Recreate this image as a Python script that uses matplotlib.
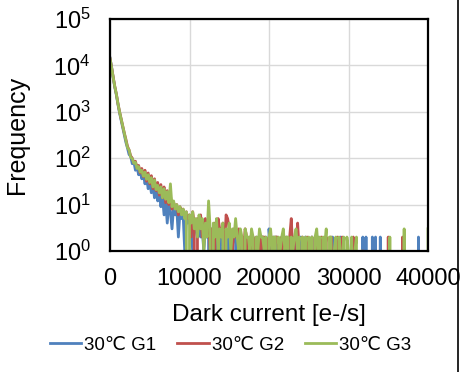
import matplotlib
matplotlib.use("Agg")
import matplotlib.pyplot as plt
import numpy as np
from matplotlib.lines import Line2D

# bin centres, 200 e-/s wide
bin_step = 200
x_max = 40000

labels = ["30\u2103 G1", "30\u2103 G2", "30\u2103 G3"]
colors = ["#4F81BD", "#C0504D", "#9BBB59"]

# counts per bin (10 bins per row = 2000 e-/s)
g1 = [14500, 9200, 5400, 3400, 2300, 1450, 950, 660, 450, 320,
      220, 165, 120, 110, 76, 84, 55, 64, 44, 52,
      36, 45, 28, 38, 22, 31, 18, 26, 14, 21,
      12, 18, 9, 15, 6, 12, 4, 11, 7, 3,
      9, 6, 8, 2, 7, 5, 6, 1, 5, 4,
      5, 3, 1, 4, 3, 2, 4, 2, 3, 1,
      3, 2, 4, 0, 3, 1, 2, 3, 0, 2,
      3, 1, 2, 0, 2, 3, 1, 2, 0, 2,
      1, 2, 0, 2, 1, 2, 0, 1, 2, 0,
      2, 1, 0, 2, 1, 0, 2, 1, 2, 0,
      3, 1, 0, 2, 1, 2, 0, 1, 2, 0,
      1, 2, 0, 1, 2, 0, 1, 2, 0, 1,
      2, 0, 1, 2, 0, 1, 0, 2, 0, 1,
      0, 2, 0, 1, 0, 2, 0, 1, 0, 0,
      2, 0, 1, 0, 0, 2, 0, 0, 1, 0,
      0, 1, 0, 0, 0, 0, 0, 0, 0, 2,
      0, 2, 0, 0, 0, 2, 0, 2, 0, 0,
      2, 0, 0, 0, 0, 0, 0, 0, 0, 0,
      0, 0, 0, 0, 0, 0, 0, 0, 0, 0,
      0, 0, 0, 0, 2, 0, 0, 0, 0, 0,
      0]

g2 = [14200, 9100, 5600, 3550, 2420, 1520, 1010, 710, 490, 350,
      255, 180, 150, 112, 100, 80, 86, 62, 70, 48,
      60, 40, 55, 32, 48, 28, 42, 22, 36, 20,
      30, 16, 27, 14, 24, 11, 20, 10, 16, 8,
      11, 9, 10, 6, 9, 7, 8, 6, 7, 5,
      6, 2, 7, 4, 0, 5, 3, 6, 2, 4,
      5, 3, 4, 1, 3, 0, 4, 2, 5, 3,
      2, 4, 1, 6, 5, 3, 2, 1, 3, 2,
      2, 3, 0, 2, 1, 3, 2, 0, 2, 1,
      2, 1, 2, 0, 2, 1, 2, 2, 0, 1,
      2, 0, 2, 1, 2, 2, 1, 0, 2, 1,
      2, 0, 1, 2, 5, 1, 2, 0, 4, 1,
      0, 2, 1, 0, 2, 1, 0, 2, 0, 1,
      2, 0, 1, 2, 0, 1, 2, 0, 0, 2,
      0, 1, 0, 2, 0, 0, 2, 0, 1, 0,
      0, 0, 0, 2, 0, 0, 0, 0, 0, 1,
      0, 0, 0, 0, 0, 0, 0, 0, 0, 0,
      0, 0, 0, 0, 0, 2, 0, 0, 0, 0,
      0, 0, 0, 0, 2, 0, 0, 0, 0, 0,
      0, 0, 0, 0, 0, 0, 0, 0, 0, 0,
      0]

g3 = [14000, 9000, 5500, 3500, 2400, 1500, 1000, 700, 480, 340,
      240, 170, 150, 105, 98, 78, 82, 60, 66, 50,
      55, 41, 50, 35, 44, 30, 38, 24, 34, 21,
      26, 18, 24, 14, 22, 13, 19, 11, 28, 9,
      12, 8, 10, 7, 9, 6, 8, 5, 7, 0,
      6, 4, 7, 3, 5, 2, 6, 3, 5, 1,
      4, 2, 12, 3, 0, 4, 2, 5, 1, 3,
      2, 4, 0, 3, 2, 4, 1, 3, 2, 5,
      2, 1, 3, 2, 0, 3, 2, 2, 1, 3,
      2, 0, 2, 1, 3, 2, 2, 1, 2, 0,
      2, 3, 1, 2, 2, 0, 2, 1, 2, 3,
      1, 2, 2, 0, 2, 1, 2, 3, 1, 2,
      0, 2, 1, 2, 0, 2, 1, 2, 0, 2,
      3, 1, 2, 0, 2, 1, 3, 0, 2, 2,
      0, 1, 2, 0, 2, 1, 0, 2, 0, 2,
      1, 0, 2, 0, 1, 2, 0, 0, 1, 0,
      0, 0, 0, 0, 0, 0, 0, 0, 0, 0,
      0, 0, 0, 0, 0, 0, 2, 0, 0, 0,
      0, 0, 0, 0, 0, 3, 0, 0, 0, 0,
      0, 0, 0, 0, 0, 0, 0, 0, 0, 0,
      3]

plt.rcParams['font.family'] = ['Liberation Sans', 'DejaVu Sans']
plt.rcParams['mathtext.fontset'] = 'custom'
plt.rcParams['mathtext.rm'] = 'Liberation Sans'

fig = plt.figure(figsize=(4.61, 3.72), dpi=100)
ax = fig.add_axes([110/461, 1-251/372, (428-110)/461, (251-19)/372])

x = np.arange(len(g1)) * bin_step
for data, c, lab in zip([g1, g2, g3], colors, labels):
    ax.plot(x, data, color=c, lw=2.0, label=lab)

ax.set_yscale('log', nonpositive='clip')
ax.set_ylim(1, 1e5)
ax.set_xlim(0, x_max)
ax.set_xticks([0, 10000, 20000, 30000, 40000])
ax.set_yticks([1, 10, 100, 1000, 10000, 100000])
ax.minorticks_off()
ax.grid(True, color='#D9D9D9', lw=1)
ax.set_axisbelow(True)
ax.tick_params(length=0, labelsize=17)
ax.tick_params(axis='x', pad=12)
ax.tick_params(axis='y', pad=14)
for s in ax.spines.values():
    s.set_linewidth(1.6)
    s.set_color('black')

ax.set_xlabel("Dark current [e-/s]", fontsize=17.5, labelpad=10)
ax.set_ylabel("Frequency", fontsize=18)
ax.yaxis.set_label_coords(-0.255, 0.5)

fig.legend(loc='center', bbox_to_anchor=(0.5, 1-345/372), ncol=3, frameon=False,
           fontsize=13.5, handlelength=1.7, handletextpad=0.15, columnspacing=1.1)

fig.add_artist(Line2D([458/461, 458/461], [0, 1], color='black', lw=1.2))

fig.savefig("out.png", dpi=100)
